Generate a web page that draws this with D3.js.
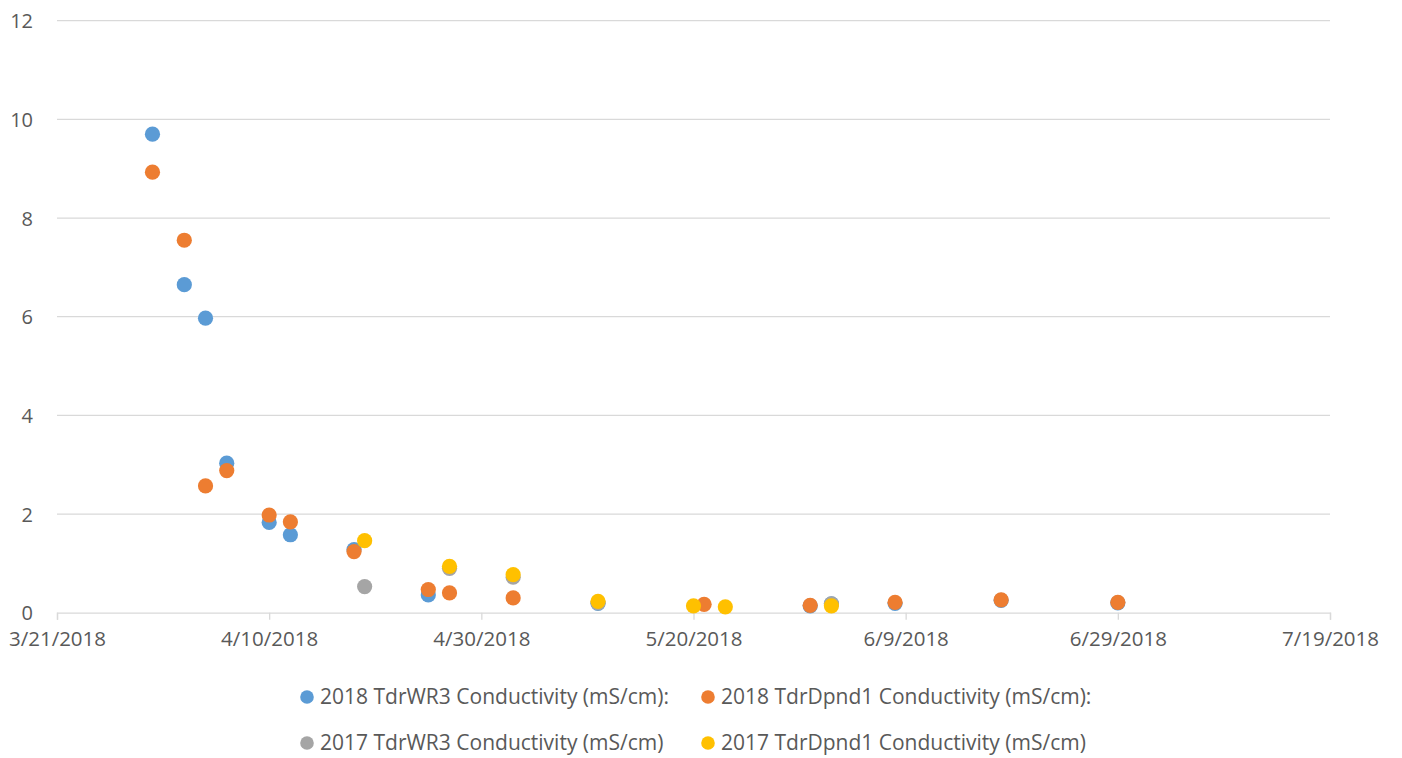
<!DOCTYPE html>
<html><head><meta charset="utf-8">
<script src="https://cdn.jsdelivr.net/npm/d3@7"></script>
<style>html,body{margin:0;padding:0;background:#fff;}svg{display:block;}</style>
</head><body>
<svg id="chart" width="1402" height="758"></svg>
<script>
const xTickLabels = ["3/21/2018","4/10/2018","4/30/2018","5/20/2018","6/9/2018","6/29/2018","7/19/2018"];
const yTicks = [0,2,4,6,8,10,12];

const wr3_2018_dates = ["3/30/2018","4/2/2018","4/4/2018","4/6/2018","4/10/2018","4/12/2018","4/18/2018","4/25/2018","5/11/2018","5/31/2018","6/2/2018","6/8/2018","6/18/2018","6/29/2018"];
const wr3_2018_vals  = [9.7,6.65,5.97,3.03,1.83,1.58,1.28,0.36,0.19,0.14,0.18,0.19,0.25,0.2];

const dp_2018_dates = ["3/30/2018","4/2/2018","4/4/2018","4/6/2018","4/10/2018","4/12/2018","4/18/2018","4/25/2018","4/27/2018","5/3/2018","5/21/2018","5/31/2018","6/8/2018","6/18/2018","6/29/2018"];
const dp_2018_vals  = [8.93,7.55,2.57,2.88,1.98,1.84,1.24,0.47,0.40,0.30,0.17,0.15,0.21,0.26,0.21];

const wr3_2017_dates = ["4/19/2018","4/27/2018","5/3/2018","5/11/2018","6/2/2018"];
const wr3_2017_vals  = [0.53,0.90,0.72,0.20,0.18];

const dp_2017_dates = ["4/19/2018","4/27/2018","5/3/2018","5/11/2018","5/20/2018","5/23/2018","6/2/2018"];
const dp_2017_vals  = [1.46,0.94,0.77,0.23,0.14,0.12,0.14];

const seriesNames = ["2018 TdrWR3 Conductivity (mS/cm):","2018 TdrDpnd1 Conductivity (mS/cm):","2017 TdrWR3 Conductivity (mS/cm)","2017 TdrDpnd1 Conductivity (mS/cm)"];
const seriesColors = ["#5b9bd5","#ed7d31","#a5a5a5","#ffc000"];

const parse = s => { const [m,d,y] = s.split("/").map(Number); return new Date(Date.UTC(y,m-1,d)); };

const series = [
  {name: seriesNames[0], color: seriesColors[0], pts: wr3_2018_dates.map((d,i)=>({d:parse(d), v:wr3_2018_vals[i]}))},
  {name: seriesNames[1], color: seriesColors[1], pts: dp_2018_dates.map((d,i)=>({d:parse(d), v:dp_2018_vals[i]}))},
  {name: seriesNames[2], color: seriesColors[2], pts: wr3_2017_dates.map((d,i)=>({d:parse(d), v:wr3_2017_vals[i]}))},
  {name: seriesNames[3], color: seriesColors[3], pts: dp_2017_dates.map((d,i)=>({d:parse(d), v:dp_2017_vals[i]}))}
];

const svg = d3.select("#chart");
const font = "'Open Sans', sans-serif";
const textColor = "#595959";
const gridColor = "#d9d9d9";

const tickDates = xTickLabels.map(parse);
const x = d3.scaleUtc().domain([tickDates[0], tickDates[tickDates.length-1]]).range([57, 1330]);
const y = d3.scaleLinear().domain([0, 12]).range([612.7, 20.7]);

// gridlines
svg.append("g").selectAll("line").data(yTicks.filter(v=>v>0)).join("line")
  .attr("x1", 57).attr("x2", 1330)
  .attr("y1", d=>y(d)).attr("y2", d=>y(d))
  .attr("stroke", gridColor).attr("stroke-width", 1.3);

// y axis labels
const yAxis = d3.axisLeft(y).tickValues(yTicks).tickSize(0).tickPadding(0).tickFormat(d3.format("d"));
const gy = svg.append("g").attr("transform","translate(33,0)").call(yAxis);
gy.select(".domain").remove();
gy.selectAll("text").attr("font-family", font).attr("font-size", 20).attr("fill", textColor).attr("dy","0.35em");

// x axis
const xAxis = d3.axisBottom(x).tickValues(tickDates).tickSize(7).tickPadding(12)
  .tickFormat((d,i)=>xTickLabels[i]);
const gx = svg.append("g").attr("transform", `translate(0,${y(0)})`).call(xAxis);
gx.select(".domain").attr("stroke", gridColor).attr("stroke-width", 1.3);
gx.selectAll(".tick line").attr("stroke", gridColor).attr("stroke-width", 1.3);
gx.selectAll("text").attr("font-family", font).attr("font-size", 20.5).attr("fill", textColor);

// points
series.forEach(s => {
  svg.append("g").selectAll("circle").data(s.pts).join("circle")
    .attr("cx", d=>x(d.d)).attr("cy", d=>y(d.v)).attr("r", 7.6)
    .attr("fill", s.color);
});

// legend
const legendPos = [[307,697],[708,697],[307,743],[708,743]];
series.forEach((s,i) => {
  const g = svg.append("g").attr("transform", `translate(${legendPos[i][0]},${legendPos[i][1]})`);
  g.append("circle").attr("r", 6.8).attr("fill", s.color);
  g.append("text").attr("x", 13).attr("dy","0.35em")
    .attr("font-family", font).attr("font-size", 21).attr("fill", textColor).text(s.name);
});
</script>
</body></html>
